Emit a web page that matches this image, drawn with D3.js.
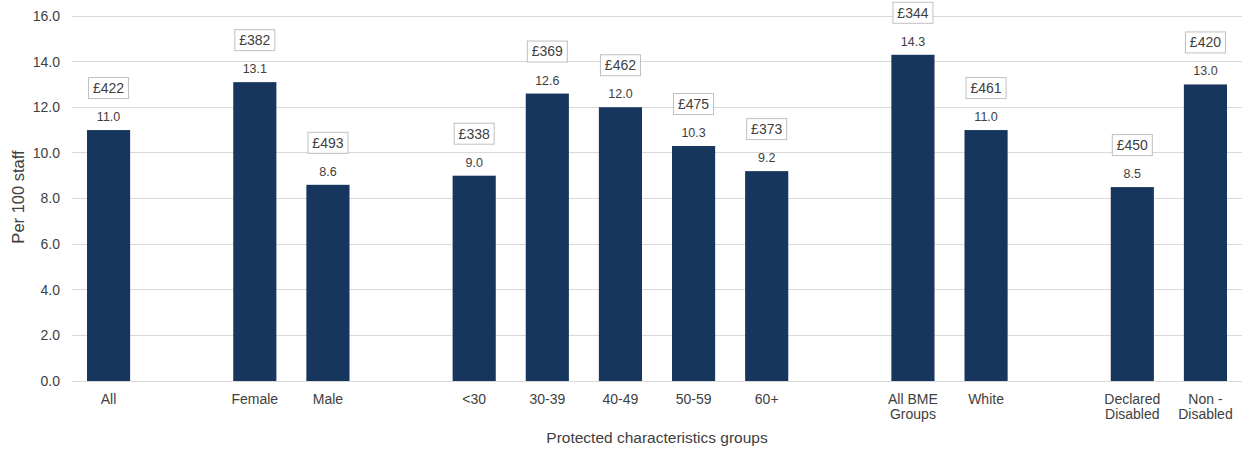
<!DOCTYPE html>
<html><head><meta charset="utf-8">
<script src="https://cdn.jsdelivr.net/npm/d3@7"></script>
<style>body{margin:0;background:#fff}svg{display:block;font-family:"Liberation Sans",Arial,sans-serif}</style>
</head><body>
<svg id="c" width="1243" height="453"></svg>
<script>
// Slot order (entries starting with "_" are spacer slots between groups)
const slots = ["All","_g1","Female","Male","_g2","<30","30-39","40-49","50-59","60+","_g3","All BME Groups","White","_g4","Declared Disabled","Non - Disabled"];
const categories = ["All","Female","Male","<30","30-39","40-49","50-59","60+","All BME Groups","White","Declared Disabled","Non - Disabled"];
const labelLines = [["All"],["Female"],["Male"],["<30"],["30-39"],["40-49"],["50-59"],["60+"],["All BME","Groups"],["White"],["Declared","Disabled"],["Non -","Disabled"]];
const values = [11.0,13.1,8.6,9.0,12.6,12.0,10.3,9.2,14.3,11.0,8.5,13.0];
const costs = ["£422","£382","£493","£338","£369","£462","£475","£373","£344","£461","£450","£420"];
const yTicks = [0,2,4,6,8,10,12,14,16];

const svg = d3.select("#c");
const m = {left:72, right:1, top:16, bottom:72};
const W = 1243, H = 453;
const x = d3.scaleBand().domain(slots).range([m.left, W-m.right]).paddingInner(0.41).paddingOuter(0.205);
const y = d3.scaleLinear().domain([0,16]).range([H-m.bottom, m.top]);

// gridlines
svg.append("g").selectAll("line").data(yTicks).join("line")
  .attr("x1", m.left).attr("x2", W-m.right)
  .attr("y1", d=>y(d)).attr("y2", d=>y(d))
  .attr("stroke", "#d9d9d9").attr("stroke-width", 1).attr("shape-rendering","crispEdges");

// y axis labels
const yAxis = d3.axisLeft(y).tickValues(yTicks).tickFormat(d3.format(".1f")).tickSize(0).tickPadding(12);
const ya = svg.append("g").attr("transform", `translate(${m.left},0)`).call(yAxis);
ya.select(".domain").remove();
ya.selectAll("text").attr("font-size", 14).attr("fill", "#404040").attr("font-family","Liberation Sans, Arial, sans-serif");

const data = categories.map((c,i)=>({c, v:values[i], cost:costs[i], lines:labelLines[i]}));

// bars
svg.append("g").selectAll("rect").data(data).join("rect")
  .attr("x", d=>x(d.c)).attr("width", x.bandwidth())
  .attr("y", d=>y(d.v)).attr("height", d=>y(0)-y(d.v))
  .attr("fill", "#17365d");

// value labels
svg.append("g").selectAll("text").data(data).join("text")
  .attr("x", d=>x(d.c)+x.bandwidth()/2).attr("y", d=>y(d.v)-9)
  .attr("text-anchor","middle").attr("font-size", 12.5).attr("fill","#404040")
  .text(d=>d.v.toFixed(1));

// cost boxes
const cg = svg.append("g").selectAll("g").data(data).join("g")
  .attr("transform", d=>`translate(${x(d.c)+x.bandwidth()/2},${y(d.v)-42})`);
cg.append("rect").attr("x",-20).attr("y",-10.5).attr("width",40).attr("height",21)
  .attr("fill","#fff").attr("stroke","#bfbfbf").attr("stroke-width",1);
cg.append("text").attr("text-anchor","middle").attr("dy","0.35em").attr("font-size",14).attr("fill","#404040")
  .text(d=>d.cost);

// x labels
const xl = svg.append("g").selectAll("text").data(data).join("text")
  .attr("x", d=>x(d.c)+x.bandwidth()/2).attr("y", 404)
  .attr("text-anchor","middle").attr("font-size",14).attr("fill","#404040");
xl.selectAll("tspan").data(d=>d.lines.map(t=>({t, cx:x(d.c)+x.bandwidth()/2}))).join("tspan")
  .attr("x", d=>d.cx).attr("dy",(d,i)=>i===0?0:15).text(d=>d.t);

// axis titles
svg.append("text").attr("x", 657).attr("y", 443).attr("text-anchor","middle")
  .attr("font-size",15.5).attr("fill","#404040").text("Protected characteristics groups");
svg.append("text").attr("transform","translate(24,197) rotate(-90)").attr("text-anchor","middle")
  .attr("font-size",16.5).attr("fill","#404040").text("Per 100 staff");
</script>
</body></html>
